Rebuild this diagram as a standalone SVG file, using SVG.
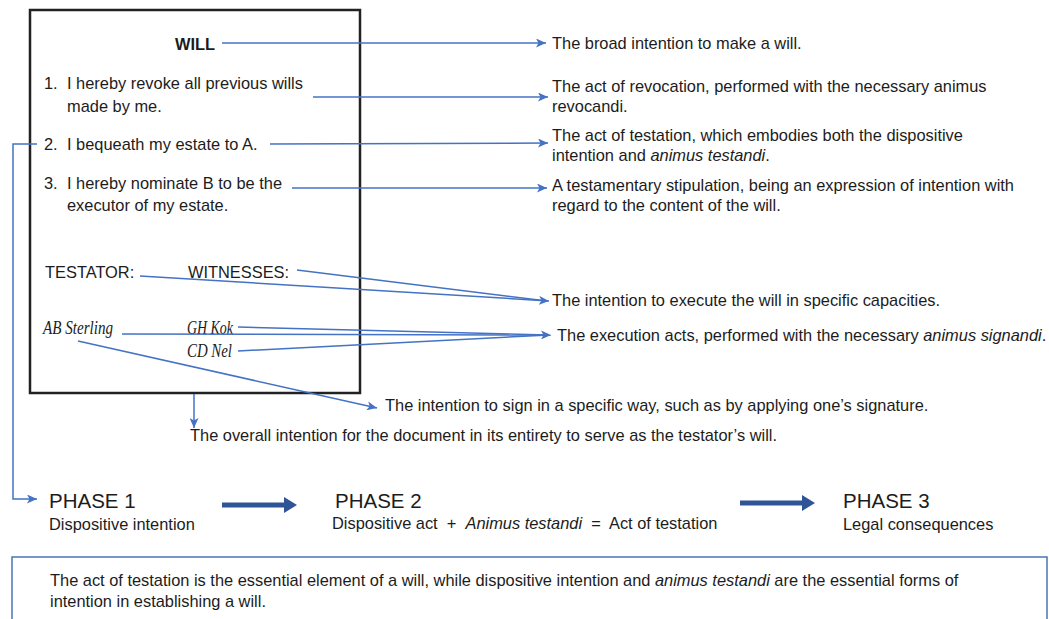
<svg xmlns="http://www.w3.org/2000/svg" width="1049" height="619" viewBox="0 0 1049 619">
<defs>
<style>
text{font-family:"Liberation Sans",Arial,sans-serif;font-size:16.4px;fill:#1c1c1c}
.b{font-weight:bold}
.i{font-style:italic}
.ph{font-size:20.5px}
.sig{font-family:"Liberation Serif","DejaVu Serif",serif;font-style:italic;font-size:18px}
.ln{fill:none;stroke:#4472c4;stroke-width:1.5}
.arr{marker-end:url(#ah)}
.big{fill:#2f5597}
</style>
<marker id="ah" markerUnits="userSpaceOnUse" markerWidth="11" markerHeight="9" refX="10" refY="4.5" orient="auto">
<path d="M0,0 L10,4.5 L0,9 L2.5,4.5 z" fill="#4472c4"/>
</marker>
</defs>
<rect width="1049" height="619" fill="#ffffff"/>

<g id="will-document">
<rect x="30" y="10" width="330" height="383" fill="#ffffff" stroke="#222222" stroke-width="2.5"/>
<text class="b" x="175" y="50">WILL</text>
<text x="44" y="89">1.</text><text x="67" y="89">I hereby revoke all previous wills</text>
<text x="67" y="112">made by me.</text>
<text x="44" y="150">2.</text><text x="67" y="150">I bequeath my estate to A.</text>
<text x="44" y="189">3.</text><text x="67" y="189">I hereby nominate B to be the</text>
<text x="67" y="211">executor of my estate.</text>
<text x="45" y="278">TESTATOR:</text>
<text x="188" y="278">WITNESSES:</text>
<text class="sig" x="43" y="334" textLength="70" lengthAdjust="spacingAndGlyphs">AB Sterling</text>
<text class="sig" x="187" y="334" textLength="46" lengthAdjust="spacingAndGlyphs">GH Kok</text>
<text class="sig" x="187" y="357" textLength="45" lengthAdjust="spacingAndGlyphs">CD Nel</text>
</g>

<g id="note-will"><text x="552" y="49">The broad intention to make a will.</text></g>
<g id="note-revocation">
<text x="552" y="92">The act of revocation, performed with the necessary animus</text>
<text x="552" y="112">revocandi.</text>
</g>
<g id="note-testation">
<text x="552" y="141">The act of testation, which embodies both the dispositive</text>
<text x="552" y="161">intention and <tspan class="i">animus testandi</tspan>.</text>
</g>
<g id="note-stipulation">
<text x="552" y="191">A testamentary stipulation, being an expression of intention with</text>
<text x="552" y="211">regard to the content of the will.</text>
</g>
<g id="note-capacities"><text x="552" y="306">The intention to execute the will in specific capacities.</text></g>
<g id="note-execution"><text x="557" y="341">The execution acts, performed with the necessary <tspan class="i">animus signandi</tspan>.</text></g>
<g id="note-sign"><text x="385" y="411">The intention to sign in a specific way, such as by applying one’s signature.</text></g>
<g id="note-overall"><text x="190" y="441">The overall intention for the document in its entirety to serve as the testator’s will.</text></g>

<g id="phase-1">
<text class="ph" x="49" y="508">PHASE 1</text>
<text x="49" y="530">Dispositive intention</text>
</g>
<g id="phase-2">
<text class="ph" x="335" y="508">PHASE 2</text>
<text x="332" y="529" xml:space="preserve" style="white-space:pre">Dispositive act  +  <tspan class="i">Animus testandi</tspan>  =  Act of testation</text>
</g>
<g id="phase-3">
<text class="ph" x="843" y="508">PHASE 3</text>
<text x="843" y="530">Legal consequences</text>
</g>

<g id="summary">
<rect x="12" y="557" width="1035" height="75" fill="#ffffff" stroke="#4a74b4" stroke-width="1.5"/>
<text x="50" y="586">The act of testation is the essential element of a will, while dispositive intention and <tspan class="i">animus testandi</tspan> are the essential forms of</text>
<text x="50" y="607">intention in establishing a will.</text>
</g>

<g id="connectors">
<path class="ln arr" d="M222,43 L546,43"/>
<path class="ln arr" d="M313,97 L548,97"/>
<path class="ln arr" d="M270,144 L548,143"/>
<path class="ln arr" d="M292,188 L547,188"/>
<path class="ln arr" d="M37,144 L13,144 L13,499 L37,499"/>
<path class="ln arr" d="M140,276 L549,301"/>
<path class="ln" d="M297,270 L547,301"/>
<path class="ln arr" d="M122,334 L551,335"/>
<path class="ln" d="M238,327 L549,335"/>
<path class="ln" d="M238,351 L549,335"/>
<path class="ln arr" d="M78,341 L377,408"/>
<path class="ln arr" d="M194,394 L194,428"/>
<path class="big" d="M222,502.5 L284,502.5 L284,497 L297,505 L284,513 L284,507.5 L222,507.5 z"/>
<path class="big" d="M740,500.5 L802,500.5 L802,495 L815,503 L802,511 L802,505.5 L740,505.5 z"/>
</g>
</svg>
